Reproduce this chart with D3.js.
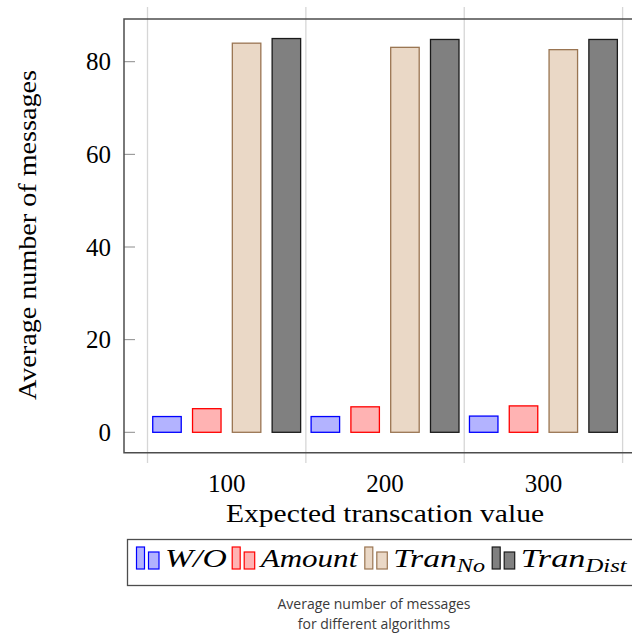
<!DOCTYPE html>
<html>
<head>
<meta charset="utf-8">
<script src="https://cdn.jsdelivr.net/npm/d3@7"></script>
<style>
  body { margin: 0; background: #fff; }
  svg { display: block; }
</style>
</head>
<body>
<div id="viz"></div>
<script>
let categories = [100, 200, 300];
let seriesNames = ['W/O', 'Amount', 'TranNo', 'TranDist'];
let woValues = [3.4, 3.4, 3.5];
let amountValues = [5.1, 5.5, 5.7];
let tranNoValues = [84.0, 83.1, 82.6];
let tranDistValues = [85.0, 84.8, 84.8];
let yTicks = [0, 20, 40, 60, 80];
let gridValues = [50, 150, 250, 350];

let width = 632, height = 633;
let serif = "'Liberation Serif', 'Times New Roman', serif";

let series = [
    {name: 'W/O', values: woValues, fill: '#b3b3ff', stroke: '#0000ff'},
    {name: 'Amount', values: amountValues, fill: '#ffb3b3', stroke: '#ff0000'},
    {name: 'TranNo', values: tranNoValues, fill: '#ead8c6', stroke: '#9a7552'},
    {name: 'TranDist', values: tranDistValues, fill: '#808080', stroke: '#1a1a1a'}
];

let svg = d3.select('#viz').append('svg')
    .attr('width', width)
    .attr('height', height);

// plot box
let boxLeft = 124, boxTop = 19, boxRight = 646, boxBottom = 452.7;

let x = d3.scaleLinear().domain([50, 350]).range([147.5, 622.6]);
let y = d3.scaleLinear().domain([0, 80]).range([432.3, 61.7]);

// vertical grid lines (they poke out above and below the box)
svg.append('g')
    .selectAll('line')
    .data(gridValues)
    .enter()
    .append('line')
    .attr('x1', d => x(d)).attr('x2', d => x(d))
    .attr('y1', 7).attr('y2', 463)
    .attr('stroke', '#d6d6d6')
    .attr('stroke-width', 1.3);

// bars
let step = 39.8;
let barW = 28.5;
series.forEach(function (s, i) {
    svg.append('g')
        .selectAll('rect')
        .data(s.values)
        .enter()
        .append('rect')
        .attr('x', (d, j) => x(categories[j]) + (i - 1.5) * step - barW / 2)
        .attr('y', d => y(d))
        .attr('width', barW)
        .attr('height', d => y(0) - y(d))
        .attr('fill', s.fill)
        .attr('stroke', s.stroke)
        .attr('stroke-width', 1.3);
});

// y ticks (inside the box)
let yAxis = svg.append('g');
yAxis.selectAll('line')
    .data(yTicks)
    .enter()
    .append('line')
    .attr('x1', boxLeft).attr('x2', boxLeft + 11)
    .attr('y1', d => y(d)).attr('y2', d => y(d))
    .attr('stroke', '#8c8c8c')
    .attr('stroke-width', 1);
yAxis.selectAll('text')
    .data(yTicks)
    .enter()
    .append('text')
    .attr('x', boxLeft - 13)
    .attr('y', d => y(d) + 8.5)
    .attr('text-anchor', 'end')
    .style('font-family', serif)
    .style('font-size', '25px')
    .text(d => d);

// box: left, top and bottom edges
svg.append('path')
    .attr('d', 'M' + boxRight + ',' + boxTop + 'H' + boxLeft + 'V' + boxBottom + 'H' + boxRight)
    .attr('fill', 'none')
    .attr('stroke', '#4d4d4d')
    .attr('stroke-width', 1.5);

// x tick labels
svg.append('g')
    .selectAll('text')
    .data(categories)
    .enter()
    .append('text')
    .attr('x', d => x(d))
    .attr('y', 491.5)
    .attr('text-anchor', 'middle')
    .style('font-family', serif)
    .style('font-size', '25px')
    .text(d => d);

svg.append('text')
    .attr('x', 385)
    .attr('y', 521.5)
    .attr('text-anchor', 'middle')
    .attr('textLength', 318)
    .attr('lengthAdjust', 'spacingAndGlyphs')
    .style('font-family', serif)
    .style('font-size', '25px')
    .text('Expected transcation value');

svg.append('text')
    .attr('transform', 'translate(36,235) rotate(-90)')
    .attr('text-anchor', 'middle')
    .attr('textLength', 330)
    .attr('lengthAdjust', 'spacingAndGlyphs')
    .style('font-family', serif)
    .style('font-size', '25px')
    .text('Average number of messages');

// legend
let legend = svg.append('g');
legend.append('rect')
    .attr('x', 127.5).attr('y', 539.5)
    .attr('width', 520).attr('height', 46)
    .attr('fill', '#fff')
    .attr('stroke', '#4d4d4d')
    .attr('stroke-width', 1.3);

let legendX = [136, 231.7, 364.3, 491.7];
let legendTextEnd = [226.7, 357.3, 485, 626.7];
series.forEach(function (s, i) {
    let lx = legendX[i];
    legend.append('rect')
        .attr('x', lx + 0.5).attr('y', 547)
        .attr('width', 8).attr('height', 22)
        .attr('fill', s.fill).attr('stroke', s.stroke).attr('stroke-width', 1.2);
    legend.append('rect')
        .attr('x', lx + 12.5).attr('y', 552)
        .attr('width', 10.5).attr('height', 17)
        .attr('fill', s.fill).attr('stroke', s.stroke).attr('stroke-width', 1.2);

    let t = legend.append('text')
        .attr('x', lx + 29)
        .attr('y', 567)
        .attr('textLength', legendTextEnd[i] - lx - 29)
        .attr('lengthAdjust', 'spacingAndGlyphs')
        .style('font-family', serif)
        .style('font-style', 'italic')
        .style('font-size', '25px');
    if (s.name === 'TranNo' || s.name === 'TranDist') {
        t.append('tspan').text('Tran');
        t.append('tspan')
            .attr('dy', 5)
            .style('font-size', '18px')
            .text(s.name === 'TranNo' ? 'No' : 'Dist');
    } else {
        t.text(s.name);
    }
});

// caption under the figure
let caption = svg.append('g')
    .style('font-family', "'Open Sans', sans-serif")
    .style('font-size', '14px')
    .attr('fill', '#3a3a3a');
caption.append('text')
    .attr('x', 374).attr('y', 609)
    .attr('text-anchor', 'middle')
    .text('Average number of messages');
caption.append('text')
    .attr('x', 374).attr('y', 628.5)
    .attr('text-anchor', 'middle')
    .text('for different algorithms');
</script>
</body>
</html>
